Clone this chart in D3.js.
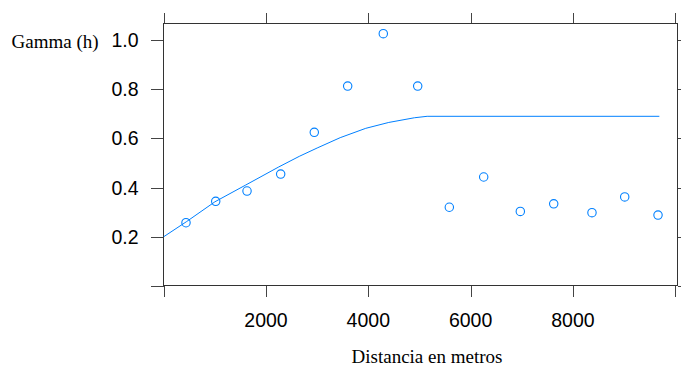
<!DOCTYPE html>
<html>
<head>
<meta charset="utf-8">
<script src="https://cdn.jsdelivr.net/npm/d3@7"></script>
<style>
  body { margin: 0; background: #fff; }
  svg { display: block; }
</style>
</head>
<body>
<svg id="chart" width="681" height="367"></svg>
<script>
// empirical semivariogram points
const distances = [436, 1017, 1629, 2287, 2944, 3597, 4293, 4966, 5584, 6256, 6972, 7625, 8373, 9013, 9664];
const gammas = [0.257, 0.344, 0.386, 0.455, 0.625, 0.813, 1.026, 0.813, 0.320, 0.443, 0.303, 0.334, 0.298, 0.362, 0.288];

// fitted model line
const modelDist = [0, 450, 1000, 1600, 2250, 2650, 3000, 3450, 3950, 4400, 4900, 5150, 9690];
const modelGamma = [0.200, 0.262, 0.342, 0.410, 0.484, 0.527, 0.561, 0.603, 0.641, 0.665, 0.684, 0.690, 0.690];

const xTicks = [0, 2000, 4000, 6000, 8000, 10000];
const xLabels = [2000, 4000, 6000, 8000];
const yTicks = [0, 0.2, 0.4, 0.6, 0.8, 1.0];
const yLabels = [0.2, 0.4, 0.6, 0.8, 1.0];

const svg = d3.select("#chart");

const x = d3.scaleLinear().domain([0, 10000]).range([163.7, 675.2]);
const y = d3.scaleLinear().domain([0, 1]).range([285.9, 40.1]);

const panel = {left: 163.5, right: 677.5, top: 23.5, bottom: 285.5};
const axisColor = "#333";
const blue = "#0080ff";

// ticks
const ticks = svg.append("g").attr("stroke", "#444").attr("stroke-width", 1)
    .attr("shape-rendering", "crispEdges");

xTicks.forEach(t => {
    const px = Math.round(x(t)) + 0.5;
    ticks.append("line").attr("x1", px).attr("x2", px)
        .attr("y1", panel.bottom).attr("y2", panel.bottom + 11.5);
    ticks.append("line").attr("x1", px).attr("x2", px)
        .attr("y1", panel.top).attr("y2", panel.top - 10.5);
});

yTicks.forEach(t => {
    const py = Math.round(y(t)) + 0.5;
    ticks.append("line").attr("x1", panel.left).attr("x2", panel.left - 12.5)
        .attr("y1", py).attr("y2", py);
    ticks.append("line").attr("x1", panel.right).attr("x2", panel.right + 10)
        .attr("y1", py).attr("y2", py);
});

// panel box
svg.append("rect")
    .attr("x", panel.left).attr("y", panel.top)
    .attr("width", panel.right - panel.left).attr("height", panel.bottom - panel.top)
    .attr("fill", "none").attr("stroke", axisColor).attr("stroke-width", 1)
    .attr("shape-rendering", "crispEdges");

// tick labels
svg.append("g").selectAll("text")
    .data(xLabels)
    .enter()
    .append("text")
    .attr("x", d => x(d))
    .attr("y", 327)
    .attr("text-anchor", "middle")
    .attr("font-family", "Liberation Sans, Arial, sans-serif")
    .attr("font-size", "19.5px")
    .attr("fill", "#000")
    .text(d => d);

svg.append("g").selectAll("text")
    .data(yLabels)
    .enter()
    .append("text")
    .attr("x", 138.5)
    .attr("y", d => y(d))
    .attr("dy", "0.36em")
    .attr("text-anchor", "end")
    .attr("font-family", "Liberation Sans, Arial, sans-serif")
    .attr("font-size", "19.5px")
    .attr("fill", "#000")
    .text(d => d3.format(".1f")(d));

// axis titles
svg.append("text")
    .attr("x", 11.5).attr("y", 48)
    .attr("font-family", "Liberation Serif, Times New Roman, serif")
    .attr("font-size", "19px")
    .attr("fill", "#000")
    .text("Gamma (h)");

svg.append("text")
    .attr("x", 427).attr("y", 363)
    .attr("text-anchor", "middle")
    .attr("font-family", "Liberation Serif, Times New Roman, serif")
    .attr("font-size", "19px")
    .attr("fill", "#000")
    .text("Distancia en metros");

// model line
const line = d3.line()
    .x((d, i) => x(modelDist[i]))
    .y((d, i) => y(modelGamma[i]));

svg.append("path")
    .datum(modelDist)
    .attr("d", line)
    .attr("fill", "none")
    .attr("stroke", blue)
    .attr("stroke-width", 1);

// points
svg.append("g").selectAll("circle")
    .data(distances)
    .enter()
    .append("circle")
    .attr("cx", d => x(d))
    .attr("cy", (d, i) => y(gammas[i]))
    .attr("r", 4.2)
    .attr("fill", "none")
    .attr("stroke", blue)
    .attr("stroke-width", 1.1);
</script>
</body>
</html>
